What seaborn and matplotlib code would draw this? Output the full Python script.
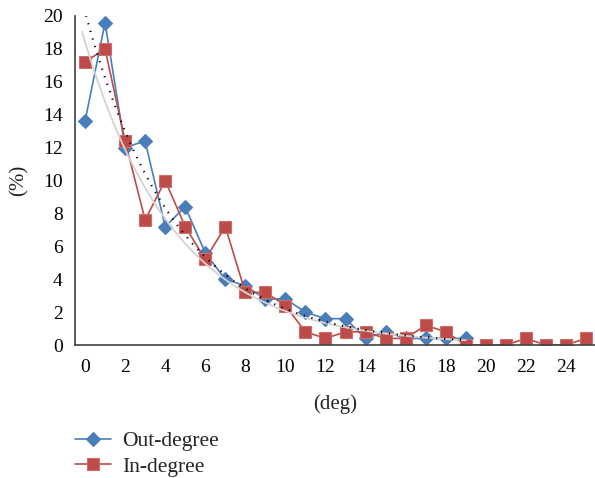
import numpy as np
import pandas as pd
import matplotlib
matplotlib.use("Agg")
import matplotlib.pyplot as plt
import seaborn as sns

deg = list(range(26))
out_degree = [13.6, 19.6, 12.0, 12.4, 7.2, 8.4, 5.6, 4.0, 3.6, 2.8, 2.8, 2.0, 1.6, 1.6,
              0.4, 0.8, 0.4, 0.4, 0.4, 0.4]
in_degree = [17.2, 18.0, 12.4, 7.6, 10.0, 7.2, 5.2, 7.2, 3.2, 3.2, 2.4, 0.8, 0.4, 0.8,
             0.8, 0.4, 0.4, 1.2, 0.8, 0.0, 0.0, 0.0, 0.4, 0.0, 0.0, 0.4]
xticks = list(range(0, 25, 2))
yticks = list(range(0, 21, 2))

sns.set_style("white")
plt.rcParams['font.family'] = ['Liberation Serif', 'DejaVu Serif']

blue = "#4A7EBB"
red = "#BE4B48"
axis_col = "#404040"

fig = plt.figure(figsize=(5.95, 4.78), dpi=100)
ax = fig.add_axes([75/595, 1-345/478, 521/595, 329/478])

df_out = pd.DataFrame({"deg": deg[:len(out_degree)], "val": out_degree})
df_in = pd.DataFrame({"deg": deg[:len(in_degree)], "val": in_degree})

sns.lineplot(data=df_out, x="deg", y="val", ax=ax, color=blue, lw=1.2,
             marker="D", markersize=7, markeredgecolor=blue, markeredgewidth=0.8,
             label="Out-degree", zorder=3)
sns.lineplot(data=df_in, x="deg", y="val", ax=ax, color=red, lw=1.2,
             marker="s", markersize=8, markeredgecolor="#C9706D", markeredgewidth=0.8,
             label="In-degree", zorder=4)

# exponential trendlines fitted from the data (log-linear, Excel-style)
xo = np.array(df_out["deg"], float); yo = np.array(out_degree)
bo, ao = np.polyfit(xo, np.log(yo), 1)
yi = np.array(in_degree[:19]); xi = np.arange(19, dtype=float)
bi, ai = np.polyfit(xi, np.log(yi), 1)
xt = np.linspace(-0.15, 19, 200)
trend = pd.DataFrame({"x": xt, "dot": np.exp(ao + bo * xt), "gray": np.exp(ai + bi * xt)})
sns.lineplot(data=trend, x="x", y="gray", ax=ax, color="#D3D3D3", lw=1.3, zorder=5)
sns.lineplot(data=trend, x="x", y="dot", ax=ax, color="black", lw=1.5,
             linestyle=(0, (0.6, 3.2)), zorder=6)

ax.set_xlim(-0.5, 25.5)
ax.set_ylim(0, 20)
ax.set_yticks(yticks)
ax.set_yticklabels([str(v) for v in yticks], fontsize=14)
ax.set_xticks(xticks)
ax.set_xticklabels([str(v) for v in xticks], fontsize=14)
ax.set_xticks(np.arange(-0.5, 26, 1), minor=True)
ax.tick_params(axis="x", which="major", length=0, pad=10, colors="black")
ax.tick_params(axis="x", which="minor", length=6, width=1, color=axis_col, direction="out")
ax.tick_params(axis="y", which="major", length=6, width=1, color=axis_col, direction="out",
               pad=3, colors="black")
ax.tick_params(axis="y", color=axis_col)
for s in ["top", "right"]:
    ax.spines[s].set_visible(False)
for s in ["left", "bottom"]:
    ax.spines[s].set_color(axis_col)
    ax.spines[s].set_linewidth(1.2)
ax.set_xlabel("(deg)", fontsize=15, labelpad=13)
ax.set_ylabel("(%)", fontsize=15, labelpad=10)

handles, labels = ax.get_legend_handles_labels()
ax.legend(handles[:2], labels[:2], loc="upper left", bbox_to_anchor=(75/595, 1-431/478),
          bbox_transform=fig.transFigure, frameon=False, fontsize=15.5,
          handlelength=1.65, handletextpad=0.55, labelspacing=0.25, borderaxespad=0,
          borderpad=0)
for spine in ax.spines.values():
    spine.set_zorder(10)
ax.set_clip_on(False)

fig.savefig("out.png", dpi=100)
